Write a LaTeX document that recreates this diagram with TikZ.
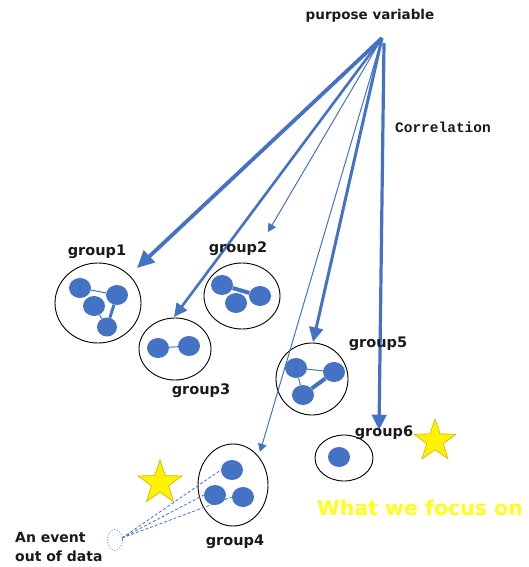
\documentclass[tikz,border=0pt]{standalone}
\usepackage{fontspec}
\setmainfont{DejaVu Sans}
\setmonofont{Liberation Mono}
\usetikzlibrary{arrows.meta,shapes.geometric}
\definecolor{obl}{HTML}{4472C4}
\definecolor{ylw}{HTML}{FFF200}
\definecolor{ylwt}{HTML}{FFFF1A}
\definecolor{ylwd}{HTML}{D4B000}
\definecolor{txt}{HTML}{1A1A1A}
\tikzset{
  grp/.style={draw=black,line width=0.9pt,ellipse,inner sep=0pt},
  dot/.style={fill=obl,ellipse,minimum width=22pt,minimum height=20pt,inner sep=0pt},
  lbl/.style={font=\bfseries\fontsize{14.5}{16}\selectfont,text=txt,inner sep=0pt},
  arr/.style={draw=obl,-{Triangle[length=#1*3.2+5pt,width=#1*2.6+6pt]},line width=#1},
  thinl/.style={draw=obl,line width=1pt},
  thickl/.style={draw=obl,line width=4pt},
  dashl/.style={draw=obl,dashed,dash pattern=on 3pt off 2pt,line width=0.8pt},
  starry/.style={star,star points=5,star point ratio=2.5,fill=ylw,draw=ylwd,line width=0.6pt,minimum size=#1,inner sep=0pt}
}
\begin{document}
\begin{tikzpicture}[x=1pt,y=-1pt]
\useasboundingbox (0,0) rectangle (529,567);
\fill[white] (0,0) rectangle (529,567);

% apex
\coordinate (apex) at (382,38);
\coordinate (apexv) at (384,43);
\node[lbl,font=\bfseries\fontsize{13.5}{16}\selectfont] (pv) at (370,16) {purpose variable};
\node[font=\ttfamily\bfseries\fontsize{14.5}{16}\selectfont,text=txt,inner sep=0pt] (corr) at (443,127) {Correlation};

% groups
\node[grp,minimum width=86pt,minimum height=80pt] (g1) at (98,303) {};
\node[grp,minimum width=76pt,minimum height=66pt] (g2) at (242,296) {};
\node[grp,minimum width=72pt,minimum height=62pt] (g3) at (175,349) {};
\node[grp,minimum width=72pt,minimum height=72pt] (g5) at (312,379) {};
\node[grp,minimum width=58pt,minimum height=46pt] (g6) at (344,458) {};
\node[grp,minimum width=70pt,minimum height=82pt] (g4) at (233,485) {};
\node[draw=obl,dotted,line width=0.8pt,ellipse,minimum width=15pt,minimum height=21pt,inner sep=0pt] (ev) at (115,540) {};

% group1 dots
\node[dot] (a1) at (80,288) {};
\node[dot] (a2) at (117,295) {};
\node[dot] (a3) at (94,306) {};
\node[dot,minimum width=20pt,minimum height=19pt] (a4) at (107,327) {};
\draw[thinl] (a1) -- (a2);
\draw[thinl] (a3) -- (a4);
\draw[draw=obl,line width=3pt] (a2) -- (a4);
% group2 dots
\node[dot] (b1) at (222,285) {};
\node[dot] (b2) at (260,296) {};
\node[dot] (b3) at (236,303) {};
\draw[thickl] (b1) -- (b2);
% group3 dots
\node[dot] (c1) at (158,348) {};
\node[dot] (c2) at (189,346) {};
\draw[thinl] (c1) -- (c2);
% group5 dots
\node[dot] (e1) at (296,368) {};
\node[dot] (e2) at (334,372) {};
\node[dot] (e3) at (303,395) {};
\draw[thinl] (e1) -- (e2);
\draw[thinl] (e1) -- (e3);
\draw[thickl] (e3) -- (e2);
% group6 dot
\node[dot] (f1) at (339,457) {};
% group4 dots
\node[dot] (d1) at (232,470) {};
\node[dot] (d2) at (215,495) {};
\node[dot] (d3) at (243,497) {};
\coordinate (evr) at (122,538);
\draw[dashl] (evr) -- (d1.west);
\draw[dashl] (evr) -- (d2.west);
\draw[dashl] (evr) -- (d3.west);

% arrows
\coordinate (t1) at (137,268);
\coordinate (t2) at (268,232);
\coordinate (t3) at (174,317);
\coordinate (t4) at (260,452);
\coordinate (t5) at (313,342);
\coordinate (t6) at (379,430);
\draw[arr=3.8pt] (apex) -- (t1);
\draw[arr=2.6pt] (apex) -- (t3);
\draw[arr=1pt] (apex) -- (t2);
\draw[arr=1pt] (apex) -- (t4);
\draw[arr=3pt] (apex) -- (t5);
\draw[arr=3.2pt] (apexv) -- (t6);

% labels
\node[lbl] (l1) at (97,252) {group1};
\node[lbl] (l2) at (238,249) {group2};
\node[lbl] (l3) at (201,391) {group3};
\node[lbl] (l5) at (378,344) {group5};
\node[lbl] (l6) at (384,433) {group6};
\node[lbl] (l4) at (235,542) {group4};
\node[lbl,align=left,anchor=west,font=\bfseries\fontsize{14}{19}\selectfont] (evl) at (15,547) {An event\\out of data};
\node[font=\bfseries\fontsize{20.5}{22}\selectfont,text=ylwt,inner sep=0pt] (focus) at (420,508) {What we focus on};

% stars
\node[starry=46pt] (s1) at (160,483) {};
\node[starry=44pt] (s2) at (435,441) {};
\end{tikzpicture}
\end{document}
